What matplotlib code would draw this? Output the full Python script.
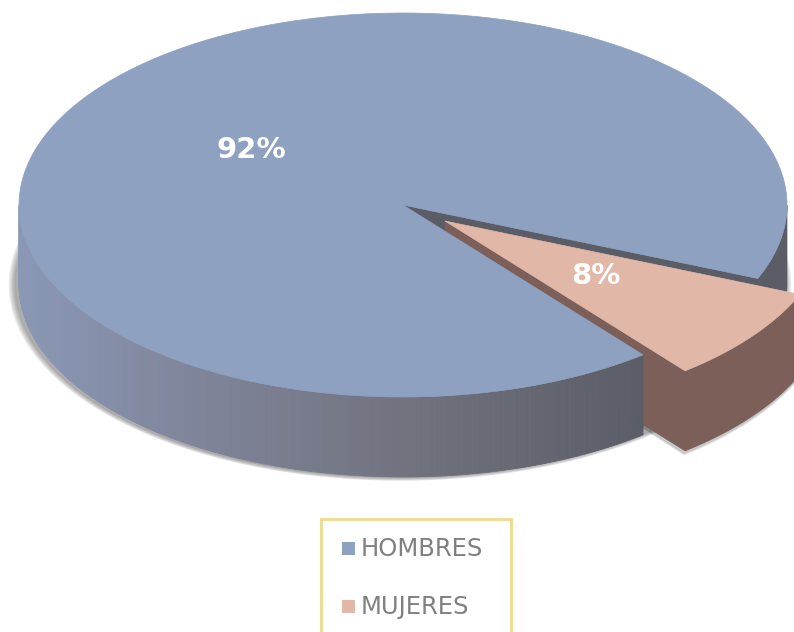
import numpy as np
import matplotlib
matplotlib.use("Agg")
import matplotlib.pyplot as plt
from matplotlib.patches import Polygon, Rectangle
from matplotlib.colors import to_rgb

categories = ["Hombres", "Mujeres"]
values = [92, 8]
pct_labels = ["92%", "8%"]

top_colors = ["#8EA1C1", "#E1B7A7"]
shade_x = [19, 200, 400, 645]
shade_colors = ["#8A98B6", "#7F8499", "#71737F", "#5A5C66"]
wall_main = "#5A5C66"
wall_slice = "#7B5F58"
frame_col = "#EFD98C"
text_col = "#808080"

W, H = 794, 632
cx, cy, rx, ry, depth = 403, 205, 384, 192, 80
explode = (42, 16)
start = 22.5

fig = plt.figure(figsize=(W / 100, H / 100), dpi=100, facecolor="white")
ax = fig.add_axes([0, 0, 1, 1])
ax.set_xlim(0, W)
ax.set_ylim(H, 0)
ax.axis("off")

sweep = [v / sum(values) * 360 for v in values]
slice_a0, slice_a1 = start, start + sweep[1]
main_a0, main_a1 = slice_a1, slice_a1 + sweep[0]


def rim(a, ox=0, oy=0, dz=0):
    a = np.radians(a)
    return np.column_stack([cx + ox + rx * np.cos(a), cy + oy + dz + ry * np.sin(a)])


def arc(a0, a1, ox=0, oy=0, dz=0, n=240):
    return rim(np.linspace(a0, a1, n), ox, oy, dz)


def add(points, color, z, **kw):
    ax.add_patch(Polygon(points, closed=True, facecolor=color, edgecolor=color,
                         linewidth=0.5, zorder=z, **kw))


def side(a0, a1, ox, oy, color, z):
    add(np.vstack([arc(a0, a1, ox, oy), arc(a1, a0, ox, oy, depth)]), color, z)


# soft shadow below the disc and the pulled-out slice
angles = np.linspace(0, 360, 360)
for k in range(7):
    grow = 7 - k
    a = np.radians(angles)
    pts = np.column_stack([cx - 3 + (rx + grow) * np.cos(a),
                           cy + depth + (ry + grow * 0.5) * np.sin(a)])
    add(pts, "#000000", 1, alpha=0.05)
    pts2 = np.vstack([[[cx + explode[0], cy + explode[1] + depth]],
                      arc(slice_a0, slice_a1, explode[0] - 1, explode[1] + 2 + k * 0.4, depth)])
    add(pts2, "#000000", 1, alpha=0.03)

# back side visible to the right of the gap
side(0, slice_a0 + 4, 0, 0, wall_main, 2)

# cut wall of the disc, seen through the gap
add(np.vstack([[[cx, cy]], rim(np.array([slice_a0])),
               rim(np.array([slice_a0]), dz=depth), [[cx, cy + depth]]]), wall_main, 3)

# pulled-out slice
ox, oy = explode
apex = np.array([[cx + ox, cy + oy]])
add(np.vstack([apex, rim(np.array([slice_a1]), ox, oy),
               rim(np.array([slice_a1]), ox, oy, depth), apex + [0, depth]]), wall_slice, 4)
side(slice_a0, slice_a1, ox, oy, wall_slice, 5)
add(np.vstack([apex, arc(slice_a0, slice_a1, ox, oy)]), top_colors[1], 6)

# front side of the disc with its horizontal shading
rgb = np.array([to_rgb(c) for c in shade_colors])
steps = np.linspace(main_a0, 180, 160)
for a0, a1 in zip(steps[:-1], steps[1:]):
    xm = rim(np.array([(a0 + a1) / 2]))[0, 0]
    col = tuple(np.interp(xm, shade_x, rgb[:, i]) for i in range(3))
    side(a0, a1, 0, 0, col, 7)

# top of the disc
add(np.vstack([[[cx, cy]], arc(main_a0, main_a1)]), top_colors[0], 8)

# percentage labels
label_xy = [(251, 150), (596, 276)]
for s, (x, y) in zip(pct_labels, label_xy):
    ax.text(x, y, s, color="white", fontsize=21, fontweight="bold",
            family="DejaVu Sans", ha="center", va="center", zorder=10)

# legend
ax.add_patch(Rectangle((321, 519), 190, 130, facecolor="white", edgecolor=frame_col,
                       linewidth=2, zorder=9))
legend_y = [549, 607]
for name, col, y in zip(categories, top_colors, legend_y):
    ax.add_patch(Rectangle((342, y - 7), 13, 13, facecolor=col, edgecolor="none", zorder=10))
    ax.text(361, y, name.upper(), color=text_col, fontsize=17.5, family="DejaVu Sans",
            ha="left", va="center", zorder=10)

fig.savefig("out.png", dpi=100, facecolor="white")
